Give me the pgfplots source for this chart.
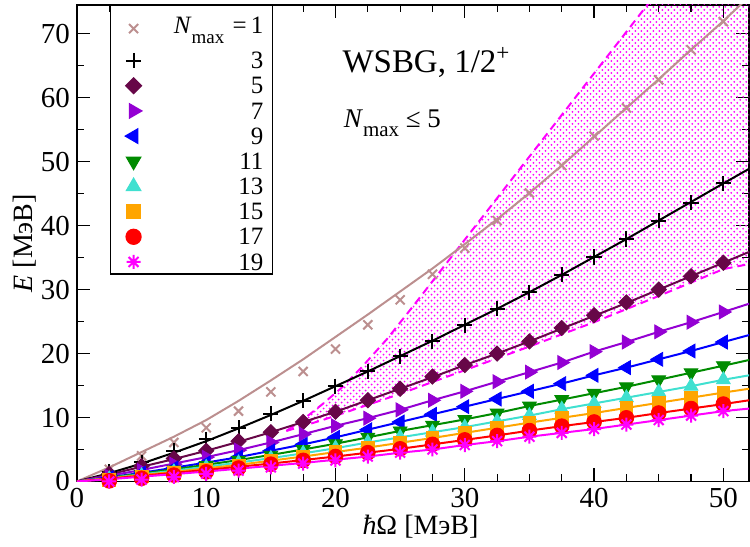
\documentclass[border=0pt]{standalone}
\usepackage{fontspec}
\setmainfont{Liberation Serif}
\usepackage{pgfplots}
\pgfplotsset{compat=1.18}
\usepackage{pgfplotstable}
\usetikzlibrary{calc,patterns}

\definecolor{gbrown}{RGB}{188,143,143}
\definecolor{gmaroon}{RGB}{103,7,72}
\definecolor{gviolet}{RGB}{148,0,211}
\definecolor{gblue}{RGB}{0,0,255}
\definecolor{ggreen}{RGB}{0,139,0}
\definecolor{gturq}{RGB}{64,224,208}
\definecolor{gorange}{RGB}{255,165,0}
\definecolor{gred}{RGB}{255,0,0}
\definecolor{gmag}{RGB}{255,0,255}

% 8-armed asterisk like xmgrace
\pgfdeclareplotmark{ast8}{%
  \pgfpathmoveto{\pgfqpoint{-\pgfplotmarksize}{0pt}}\pgfpathlineto{\pgfqpoint{\pgfplotmarksize}{0pt}}%
  \pgfpathmoveto{\pgfqpoint{0pt}{-\pgfplotmarksize}}\pgfpathlineto{\pgfqpoint{0pt}{\pgfplotmarksize}}%
  \pgfpathmoveto{\pgfqpoint{-0.707\pgfplotmarksize}{-0.707\pgfplotmarksize}}\pgfpathlineto{\pgfqpoint{0.707\pgfplotmarksize}{0.707\pgfplotmarksize}}%
  \pgfpathmoveto{\pgfqpoint{-0.707\pgfplotmarksize}{0.707\pgfplotmarksize}}\pgfpathlineto{\pgfqpoint{0.707\pgfplotmarksize}{-0.707\pgfplotmarksize}}%
  \pgfusepathqstroke}

% fitted curves
\pgfplotstableread{
x    l1   l3   l5   l7   l9   l11  l13  l15  l17  l19
0    0    0    0    0    0    0    0    0    0    0
2.5  2.2  1.3  1.1  0.9  0.65 0.6  0.55 0.5  0.45 0.35
5    4.6  2.8  2.3  1.8  1.35 1.25 1.1  1.0  0.9  0.75
7.5  7.0  4.5  3.5  2.8  2.15 1.9  1.7  1.5  1.35 1.15
10   9.6  6.3  4.8  3.8  2.95 2.6  2.3  2.05 1.8  1.55
12.5 12.6 8.3  6.2  4.9  3.8  3.35 2.95 2.6  2.3  2.0
15   15.8 10.4 7.7  6.1  4.8  4.15 3.65 3.25 2.8  2.45
17.5 19.1 12.6 9.3  7.4  5.8  5.0  4.4  3.9  3.35 2.9
20   22.6 14.9 10.9 8.7  6.9  5.9  5.2  4.6  3.9  3.4
22.5 26.1 17.2 12.7 9.9  8.1  6.9  6.1  5.3  4.5  3.9
25   29.7 19.6 14.5 11.2 9.3  7.9  6.9  6.05 5.1  4.5
27.5 33.3 22.0 16.3 12.7 10.5 8.8  7.7  6.8  5.8  5.0
30   37.1 24.5 18.2 14.1 11.7 9.7  8.5  7.6  6.5  5.7
32.5 41.0 27.0 20.0 15.6 12.9 10.7 9.4  8.4  7.2  6.3
35   45.1 29.6 21.9 17.1 14.1 11.8 10.3 9.2  7.95 7.0
37.5 49.4 32.3 23.9 18.6 15.3 12.8 11.3 9.95 8.65 7.6
40   53.9 35.1 25.9 20.3 16.6 13.8 12.2 10.7 9.3  8.2
42.5 58.4 37.9 27.9 21.8 17.8 14.8 13.1 11.5 9.95 8.9
45   62.9 40.8 30.0 23.4 19.1 15.9 14.0 12.3 10.7 9.6
47.5 67.5 43.7 32.1 24.9 20.4 17.0 14.9 13.1 11.4 10.3
50   72.0 46.6 34.2 26.5 21.8 18.1 15.9 13.9 12.1 11.0
52   75.8 48.9 35.9 27.8 22.9 19.0 16.6 14.5 12.7 11.4
}\curvetab

% calculated points
\pgfplotstableread{
x    m1   m3   m5   m7   m9   m11  m13  m15  m17  m19
2.5  1.9  1.5  1.2  0.8  0.6  0.5  0.4  0.3  0.1  0.0
5    4.0  3.0  2.4  1.7  1.3  1.1  0.9  0.8  0.5  0.3
7.5  6.1  4.8  3.6  2.7  2.1  1.8  1.5  1.3  1.0  0.7
10   8.4  6.6  4.8  3.8  2.9  2.5  2.2  1.9  1.5  1.2
12.5 11.0 8.4  6.3  4.9  3.8  3.3  2.9  2.5  2.1  1.7
15   14.0 10.6 7.7  6.1  4.8  4.1  3.6  3.2  2.7  2.2
17.5 17.2 12.6 9.3  7.4  5.8  5.0  4.4  3.9  3.3  2.8
20   20.7 14.9 10.9 8.7  6.9  5.9  5.2  4.6  3.9  3.3
22.5 24.5 17.2 12.7 9.9  8.1  6.9  6.1  5.3  4.5  3.9
25   28.4 19.6 14.5 11.2 9.3  7.9  6.9  6.05 5.1  4.5
27.5 32.4 21.9 16.4 12.7 10.5 8.8  7.7  6.8  5.8  5.0
30   36.5 24.4 18.2 14.1 11.7 9.7  8.5  7.6  6.5  5.7
32.5 40.8 27.0 20.0 15.6 12.9 10.7 9.4  8.4  7.2  6.3
35   45.1 29.6 21.9 17.1 14.1 11.8 10.3 9.2  7.95 7.0
37.5 49.4 32.3 24.0 18.6 15.3 12.8 11.3 9.95 8.65 7.6
40   54.0 35.1 26.0 20.3 16.6 13.8 12.2 10.7 9.3  8.2
42.5 58.4 37.9 28.0 21.8 17.8 14.8 13.1 11.5 9.95 8.9
45   62.8 40.8 30.0 23.4 19.1 15.9 14.0 12.3 10.7 9.6
47.5 67.5 43.6 32.1 24.9 20.4 17.0 14.9 13.1 11.4 10.3
50   71.9 46.6 34.2 26.5 21.8 18.1 15.9 13.9 12.1 11.0
}\pointtab

\newcommand{\legtxt}[1]{\makebox[56.5pt][r]{\rule[-3.6pt]{0pt}{13.2pt}#1}\hspace*{1.5pt}}
\newcommand{\legfirst}[1]{\makebox[56.5pt][r]{\rule[-3.6pt]{0pt}{22pt}\raisebox{5pt}{#1}}\hspace*{1.5pt}}

\begin{document}
\begin{tikzpicture}
\begin{axis}[
  scale only axis, width=336.5pt, height=238.5pt,
  xmin=0, xmax=52, ymin=0, ymax=74.5,
  xtick={0,10,...,50}, ytick={0,10,...,70},
  minor x tick num=3, minor y tick num=1,
  tick align=inside,
  major tick length=6.5pt, minor tick length=3.5pt,
  axis line style={line width=0.75pt},
  every tick/.style={black, line width=0.6pt},
  tick label style={font=\fontsize{14.5}{15}\selectfont},
  /pgf/number format/assume math mode=true,
  xlabel={\textit{ħ}Ω [МэВ]}, ylabel={\textit{E} [МэВ]},
  label style={font=\fontsize{14}{15}\selectfont},
  xlabel style={at={(axis description cs:0.511,-0.094)}, anchor=center},
  ylabel style={at={(axis description cs:-0.078,0.5)}, anchor=center},
  legend cell align=right,
  legend image code/.code={%
    \path[draw=none, fill=none] (0pt,-1pt) rectangle (17pt,1pt);
    \draw[#1] plot coordinates {(8.5pt,0pt)};},
  legend style={at={(rel axis cs:0.049,1)}, anchor=north west,
    draw=black, line width=0.75pt, inner xsep=3pt, inner ysep=0.5pt,
    row sep=1.5pt, font=\fontsize{12.5}{13}\selectfont,
    nodes={inner sep=0pt}},
]
% band for Nmax <= 5
\addplot[draw=none, pattern=crosshatch dots, pattern color=gmag, forget plot] coordinates {
  (16.2,7.9) (17.5,9.7) (19,12.1) (20.5,14.7) (22,17.8) (24,22.3) (26,27.4)
  (28,32.6) (30,37.8) (35,50.8) (40,63.8) (46,79.4) (56,79.4)
  (56,37.4) (52,34.0) (50,33.2) (45,29.0) (40,24.9) (37.5,23.0) (35,21.1)
  (30,17.4) (25,13.7) (21.8,11.5) (19,9.6) (16.2,7.9)};
\addplot[gmag, line width=1pt, dash pattern=on 4pt off 2.5pt, forget plot] coordinates {
  (16.2,7.9) (17.5,9.7) (19,12.1) (20.5,14.7) (22,17.8) (24,22.3) (26,27.4)
  (28,32.6) (30,37.8) (35,50.8) (40,63.8) (46,79.4)};
\addplot[gmag, line width=1pt, dash pattern=on 4pt off 2.5pt, forget plot] coordinates {
  (16.2,7.9) (19,9.6) (21.8,11.5) (25,13.7) (30,17.4) (35,21.1) (37.5,23.0)
  (40,24.9) (45,29.0) (50,33.2) (52,34.0) (56,37.4)};

% curves
\addplot[gbrown,  line width=1pt, forget plot] table[y=l1]  {\curvetab};
\addplot[black,   line width=1pt, forget plot] table[y=l3]  {\curvetab};
\addplot[gmaroon, line width=1pt, forget plot] table[y=l5]  {\curvetab};
\addplot[gviolet, line width=1pt, forget plot] table[y=l7]  {\curvetab};
\addplot[gblue,   line width=1pt, forget plot] table[y=l9]  {\curvetab};
\addplot[ggreen,  line width=1pt, forget plot] table[y=l11] {\curvetab};
\addplot[gturq,   line width=1pt, forget plot] table[y=l13] {\curvetab};
\addplot[gorange, line width=1pt, forget plot] table[y=l15] {\curvetab};
\addplot[gred,    line width=1pt, forget plot] table[y=l17] {\curvetab};
\addplot[gmag,    line width=1pt, forget plot] table[y=l19] {\curvetab};

% points
\addplot[only marks, gbrown, mark=x, mark size=3.2pt, mark options={line width=1pt},
  legend image code/.code={%
    \path[draw=none, fill=none] (0pt,-1pt) rectangle (17pt,1pt);
    \draw[##1] plot coordinates {(8.5pt,-1pt)};}] table[y=m1] {\pointtab};
\addlegendentry{\legfirst{\textit{N}\raisebox{-5pt}{\fontsize{9.5}{10}\selectfont max}\,\,=\,1}}
\addplot[only marks, black, mark=+, mark size=3.8pt, mark options={line width=1pt}] table[y=m3] {\pointtab};
\addlegendentry{\legtxt{3}}
\addplot[only marks, gmaroon, mark=square*, mark size=2.7pt, mark options={rotate=45}] table[y=m5] {\pointtab};
\addlegendentry{\legtxt{5}}
\addplot[only marks, gviolet, mark=triangle*, mark size=4pt, mark options={rotate=-90}] table[y=m7] {\pointtab};
\addlegendentry{\legtxt{7}}
\addplot[only marks, gblue, mark=triangle*, mark size=4pt, mark options={rotate=90}] table[y=m9] {\pointtab};
\addlegendentry{\legtxt{9}}
\addplot[only marks, ggreen, mark=triangle*, mark size=4pt, mark options={rotate=180}] table[y=m11] {\pointtab};
\addlegendentry{\legtxt{11}}
\addplot[only marks, gturq, mark=triangle*, mark size=4pt] table[y=m13] {\pointtab};
\addlegendentry{\legtxt{13}}
\addplot[only marks, gorange, mark=square*, mark size=3.2pt] table[y=m15] {\pointtab};
\addlegendentry{\legtxt{15}}
\addplot[only marks, gred, mark=*, mark size=3.7pt] table[y=m17] {\pointtab};
\addlegendentry{\legtxt{17}}
\addplot[only marks, gmag, mark=ast8, mark size=3.5pt, mark options={line width=1pt}] table[y=m19] {\pointtab};
\addlegendentry{\legtxt{19}}

\node[anchor=base west, font=\fontsize{16.5}{17}\selectfont] at (axis cs:20.0,63.9) {WSBG, 1/2\textsuperscript{+}};
\node[anchor=base west, font=\fontsize{13.5}{14}\selectfont] at (axis cs:20.1,55.3) {\textit{N}\raisebox{-4.5pt}{\fontsize{10.5}{11}\selectfont max} ≤ 5};
\end{axis}
\pgfresetboundingbox
\path[use as bounding box] ($(current axis.south west)+(-38.5pt,-32.5pt)$) rectangle ($(current axis.north east)+(0.4pt,2.5pt)$);
\end{tikzpicture}
\end{document}
